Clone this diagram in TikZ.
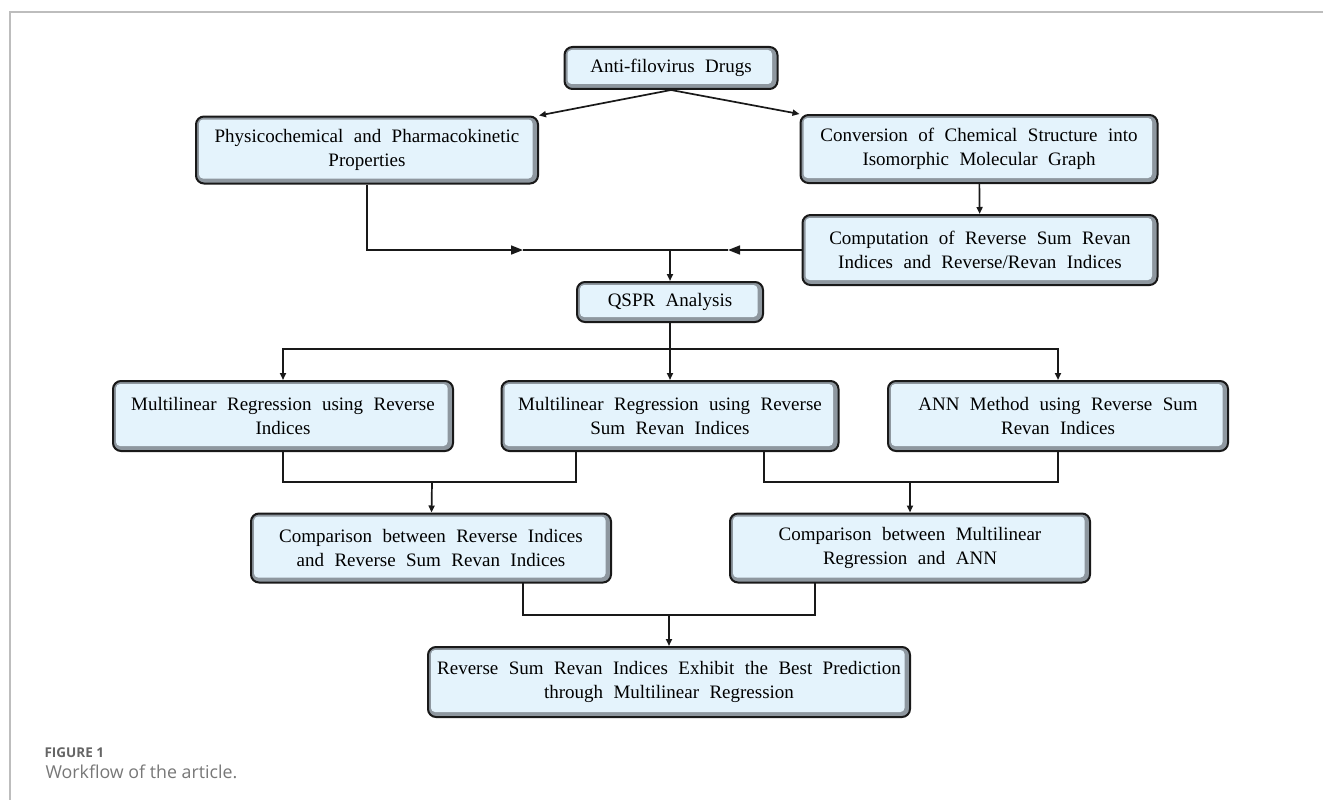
\documentclass[tikz,border=0pt]{standalone}
\usepackage{fontspec}
\setmainfont{Liberation Serif}[WordSpace=2.2]
\newfontfamily\capfont{Open Sans}
\usetikzlibrary{arrows.meta}
\definecolor{boxFill}{HTML}{E4F3FC}
\definecolor{boxBevel}{HTML}{8E979F}
\definecolor{frameGray}{HTML}{BDBDBD}
\definecolor{capGray}{HTML}{777777}

\begin{document}
\begin{tikzpicture}
[x=1pt,y=-1pt,
 nodeDecorate/.style={draw=black!90,line width=2pt,rounded corners=8pt,fill=boxBevel,
   align=center,inner sep=0pt,font=\fontsize{19}{24}\selectfont,
   path picture={\fill[boxFill,rounded corners=4pt]
     ([xshift=3pt,yshift=-3pt]path picture bounding box.north west) rectangle
     ([xshift=-5.5pt,yshift=5pt]path picture bounding box.south east);}},
 lineDecorate/.style={-,line width=1.7pt,black!90},
 arrowDecorate/.style={lineDecorate,-{Triangle[length=7pt,width=6pt]}},
 bigArrowDecorate/.style={lineDecorate,-{Triangle[length=12pt,width=9pt]}}]
\useasboundingbox (0,0) rectangle (1323,800);
\draw[frameGray,line width=1.2pt] (10,800) -- (10,12) -- (1323,12);
%% nodes or vertices
\foreach \nodename/\x/\y/\w/\h/\nodetext in {
  drugs/671/68/213/42/{Anti-filovirus Drugs},
  physPK/367/150/342/67/{Physicochemical and Pharmacokinetic\\Properties},
  convGraph/979/149/357/68/{Conversion of Chemical Structure into\\Isomorphic Molecular Graph},
  compIdx/980/250/355/70/{Computation of Reverse Sum Revan\\Indices and Reverse/Revan Indices},
  qspr/670/302/186/40/{QSPR Analysis},
  mlRev/283/416/340/70/{Multilinear Regression using Reverse\\Indices},
  mlRsr/670/416/337/70/{Multilinear Regression using Reverse\\Sum Revan Indices},
  annRsr/1058/416/340/70/{ANN Method using Reverse Sum\\Revan Indices},
  cmpIdx/431/548/360/69/{Comparison between Reverse Indices\\and Reverse Sum Revan Indices},
  cmpMl/910/548/360/69/{Comparison between Multilinear\\Regression and ANN},
  best/669/682/482/70/{Reverse Sum Revan Indices Exhibit the Best Prediction\\through Multilinear Regression}}
{
  \node (\nodename) at (\x,\y) [nodeDecorate,minimum width=\w pt,minimum height=\h pt] {\nodetext};
}
%% junctions
\coordinate (propTip) at (523,250);
\coordinate (idxTip) at (728,250);
\coordinate (merge) at (670,250);
\coordinate (split) at (670,349);
\coordinate (mlRsrL) at (576,451);
\coordinate (mlRsrR) at (764,451);
\coordinate (joinA) at (432,482);
\coordinate (joinB) at (910,482);
\coordinate (cmpIdxD) at (523,583);
\coordinate (cmpMlD) at (815,583);
\coordinate (joinC) at (669,615);
%% edges or lines
\path
\foreach \startnode/\endnode in {
  drugs.south/physPK.north east, drugs.south/convGraph.north west,
  convGraph/compIdx, merge/qspr, split/mlRsr, joinA/cmpIdx,
  joinB/cmpMl, joinC/best}
{
  (\startnode) edge[arrowDecorate] (\endnode)
};
\draw[bigArrowDecorate] (physPK) |- (propTip);
\draw[bigArrowDecorate] (compIdx.west) -- (idxTip);
\draw[lineDecorate] (propTip) -- (idxTip);
\draw[lineDecorate] (qspr) -- (split);
\draw[arrowDecorate] (split) -| (mlRev);
\draw[arrowDecorate] (split) -| (annRsr);
\draw[lineDecorate] (mlRev) |- (joinA) -| (mlRsrL);
\draw[lineDecorate] (mlRsrR) |- (joinB) -| (annRsr);
\draw[lineDecorate] (cmpIdxD) |- (joinC) -| (cmpMlD);
%% caption
\node[anchor=base west,text=capGray!85!black,font=\capfont\bfseries\fontsize{13.5}{16}\selectfont] (figNo) at (41,757) {FIGURE 1};
\node[anchor=base west,text=capGray,font=\capfont\fontsize{17.8}{21}\selectfont] (figText) at (42,778) {Workflow of the article.};
\end{tikzpicture}
\end{document}
